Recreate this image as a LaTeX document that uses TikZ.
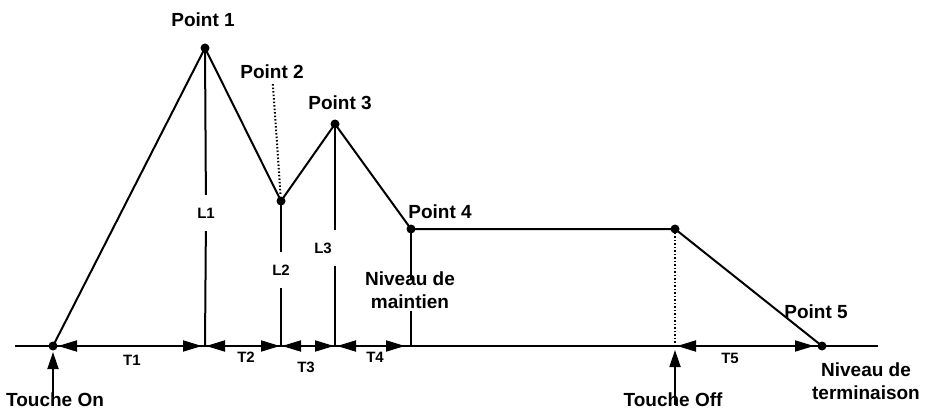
\documentclass[tikz,border=0pt]{standalone}
\usepackage{fontspec}
\setmainfont{Liberation Sans}
\usetikzlibrary{arrows.meta}
\begin{document}
\begin{tikzpicture}[x=1pt,y=-1pt,
  env/.style={line width=2pt,line join=miter},
  axis/.style={line width=1.8pt},
  dot/.style={circle,fill=black,inner sep=0pt,minimum size=9pt},
  lab/.style={font=\fontsize{19}{23}\selectfont\bfseries,inner sep=0pt},
  small/.style={font=\fontsize{15}{18}\selectfont\bfseries,inner sep=0pt},
  gaplab/.style={small,minimum height=36pt},
  tarrow/.style={line width=1.8pt,{Triangle[length=19pt,width=11pt]}-{Triangle[length=19pt,width=11pt]}},
  uparrow/.style={line width=1.8pt,-{Triangle[length=17pt,width=11pt]}},
  dots/.style={line width=2pt,dash pattern=on 1.5pt off 2pt}]
\useasboundingbox (0,0) rectangle (934,409);
\fill[white] (0,0) rectangle (934,409);
% key points
\coordinate (on) at (53,346);
\coordinate (p1) at (205,48);
\coordinate (p2) at (281,201);
\coordinate (p3) at (335,124);
\coordinate (p4) at (411,229);
\coordinate (off) at (675,229);
\coordinate (p5) at (822,346);
\coordinate (b1) at (205,346);
\coordinate (b2) at (281,346);
\coordinate (b3) at (335,346);
\coordinate (b4) at (411,346);
\coordinate (boff) at (675,346);
\coordinate (axL) at (15,346);
\coordinate (axR) at (878,346);
% axis and envelope
\draw[axis] (axL) -- (axR);
\draw[env] (on) -- (p1) -- (p2) -- (p3) -- (p4) -- (off) -- (p5);
% labels
\node[lab] (l1) at (203,20) {Point 1};
\node[lab] (l2) at (272,72) {Point 2};
\node[lab] (l3) at (340,103) {Point 3};
\node[lab] (l4) at (440,212) {Point 4};
\node[lab] (l5) at (816,312) {Point 5};
\node[lab,align=center] (niv) at (410,290) {Niveau de\\maintien};
\node[lab,align=center] (term) at (866,381) {Niveau de\\terminaison};
\node[lab] (ton) at (55,400) {Touche On};
\node[lab] (toff) at (673,400) {Touche Off};
% level lines
\node[gaplab] (L1) at (206,213) {L1};
\node[gaplab] (L2) at (281,270) {L2};
\node[gaplab] (L3) at (323,248) {L3};
\draw[env] (p1) -- (L1);
\draw[env] (L1) -- (b1);
\draw[env] (p2) -- (L2);
\draw[env] (L2) -- (b2);
\draw[env] (p3) -- (L3.north -| p3);
\draw[env] (L3.south -| p3) -- (b3);
\draw[env] (p4) -- ([yshift=-9pt]niv.north -| p4);
\draw[env] ([yshift=-2pt]niv.south -| p4) -- (b4);
\draw[dots] (off) -- (boff);
\draw[dots,shorten <=5pt,shorten >=7pt] (l2) -- (p2);
% time arrows
\draw[tarrow,shorten <=5pt,shorten >=3pt] (on) -- (b1);
\draw[tarrow,shorten <=1pt,shorten >=1pt] (b1) -- (b2);
\draw[tarrow,shorten <=1pt,shorten >=1pt] (b2) -- (b3);
\draw[tarrow,shorten <=2pt,shorten >=6pt] (b3) -- (b4);
\draw[tarrow,shorten <=2pt,shorten >=8pt] (boff) -- (p5);
\node[small] (T1) at (132,360) {T1};
\node[small] (T2) at (246,357) {T2};
\node[small] (T3) at (306,367) {T3};
\node[small] (T4) at (375,357) {T4};
\node[small] (T5) at (730,358) {T5};
% key arrows
\draw[uparrow,shorten >=6pt] ([yshift=-12pt]ton.north -| on) -- (on);
\draw[uparrow,shorten >=4pt] ([yshift=-12pt]toff.north -| off) -- (boff);
% dots
\foreach \p in {on,p1,p2,p3,p4,off,p5} \node[dot] at (\p) {};
\end{tikzpicture}
\end{document}
